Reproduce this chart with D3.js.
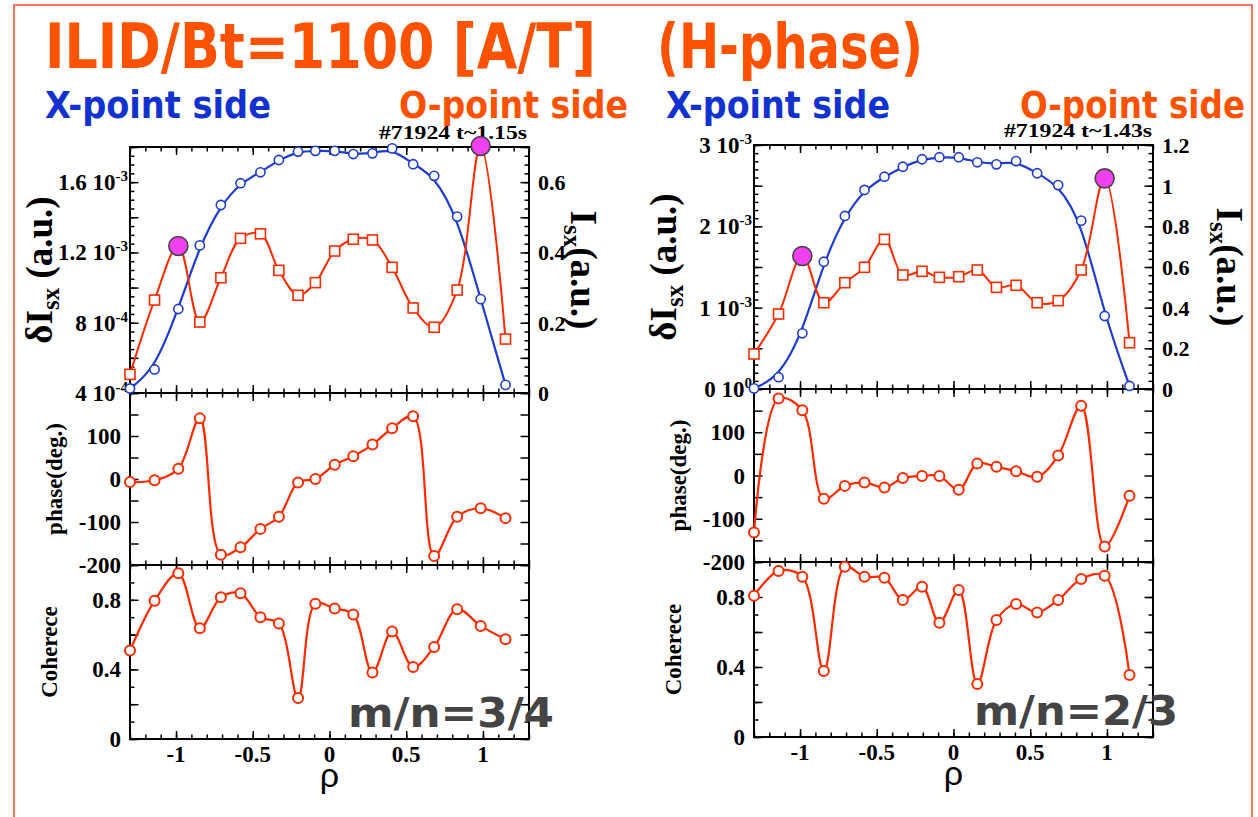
<!DOCTYPE html>
<html><head><meta charset="utf-8">
<script src="https://cdn.jsdelivr.net/npm/d3@7"></script>
<style>body{margin:0;background:#fff}svg{display:block}</style>
</head><body><svg id="c" width="1258" height="817"></svg>
<script>
// ---------------- data ----------------
const rho = [-1.30,-1.14,-0.985,-0.845,-0.708,-0.58,-0.45,-0.33,-0.205,-0.092,0.034,0.155,0.28,0.408,0.545,0.682,0.832,0.985,1.147];

// left chart (#71924 t~1.15s, m/n=3/4)
const leftDIsx  = [5.06e-4,9.29e-4,1.237e-3,8.04e-4,1.056e-3,1.28e-3,1.306e-3,1.098e-3,9.56e-4,1.028e-3,1.208e-3,1.275e-3,1.271e-3,1.115e-3,8.84e-4,7.74e-4,9.86e-4,1.806e-3,7.07e-4];
const leftIsx   = [0.013,0.067,0.239,0.420,0.535,0.597,0.628,0.663,0.687,0.689,0.689,0.680,0.682,0.696,0.651,0.618,0.502,0.267,0.023];
const leftPhase = [-7,-3,24,141,-176,-159,-116,-88,-8,0,33,53,80,118,146,-179,-88,-68,-91];
const leftCoh   = [0.508,0.794,0.952,0.637,0.814,0.837,0.700,0.664,0.235,0.777,0.750,0.716,0.382,0.618,0.414,0.529,0.746,0.650,0.573];

// right chart (#71924 t~1.43s, m/n=2/3)
const rightDIsx  = [4.30e-4,9.22e-4,1.635e-3,1.061e-3,1.307e-3,1.496e-3,1.840e-3,1.402e-3,1.447e-3,1.373e-3,1.381e-3,1.463e-3,1.250e-3,1.275e-3,1.061e-3,1.086e-3,1.463e-3,2.590e-3,5.69e-4];
const rightIsx   = [0.003,0.058,0.274,0.626,0.851,0.979,1.044,1.093,1.130,1.140,1.140,1.115,1.105,1.121,1.061,1.003,0.828,0.359,0.015];
const rightPhase = [-132,178,151,-54,-24,-16,-28,-6,-1,-1,-33,28,20,10,-3,46,161,-164,-47];
const rightCoh   = [0.807,0.949,0.916,0.377,0.973,0.916,0.910,0.783,0.859,0.653,0.840,0.303,0.669,0.760,0.712,0.783,0.903,0.922,0.354];

// highlighted (magenta) points of the dIsx series
const peakIdx = [2, 17];

// tick labels
const rhoTicks = [-1,-0.5,0,0.5,1];
const rhoTickLabels = ["-1","-0.5","0","0.5","1"];
const leftDITicks = [4e-4,8e-4,1.2e-3,1.6e-3];
const leftDIMant  = ["4","8","1.2","1.6"];
const leftDIExp   = ["-4","-4","-3","-3"];
const rightDITicks = [0,1e-3,2e-3,3e-3];
const rightDIMant  = ["0","1","2","3"];
const rightDIExp   = ["0","-3","-3","-3"];
const leftIsxTicks  = [0,0.2,0.4,0.6];
const leftIsxLabels = ["0","0.2","0.4","0.6"];
const rightIsxTicks  = [0,0.2,0.4,0.6,0.8,1,1.2];
const rightIsxLabels = ["0","0.2","0.4","0.6","0.8","1","1.2"];
const phaseTicks  = [-200,-100,0,100];
const phaseLabels = ["-200","-100","0","100"];
const cohTicks  = [0,0.4,0.8];
const cohLabels = ["0","0.4","0.8"];

// ---------------- drawing ----------------
const svg = d3.select("#c");
const RED = "#FF2A00", BLUE = "#1E3CD2", MAG = "#F040F0", ORANGE = "#FF5200", XBLUE = "#1232D0";
const SERIF = "'Liberation Serif','Times New Roman',serif";
const SANS = "'DejaVu Sans',Verdana,sans-serif";

// outer frame
svg.append("rect").attr("x",14).attr("y",5).attr("width",1238).attr("height",830)
  .attr("fill","none").attr("stroke","#FF4A2A").attr("stroke-width",1.5);

function bigText(t, x, y, size, color, len){
  svg.append("text").attr("x",x).attr("y",y).attr("font-family",SANS).attr("font-weight","bold")
    .attr("font-size",size).attr("fill",color).attr("textLength",len).attr("lengthAdjust","spacingAndGlyphs").text(t);
}
bigText("ILID/Bt=1100 [A/T]", 45, 68, 62, ORANGE, 551);
bigText("(H-phase)", 657, 68, 62, ORANGE, 266);
bigText("X-point side", 45, 118, 37, XBLUE, 226);
bigText("O-point side", 399, 118, 37, ORANGE, 229);
bigText("X-point side", 666, 118, 37, XBLUE, 224);
bigText("O-point side", 1020, 118, 37, ORANGE, 225);

const range = (lo, hi, step) => d3.range(0, Math.round((hi-lo)/step)+1).map(i => lo + i*step);

const charts = [
  {x0:130, x1:529, top:147, b1:393, b2:565, b3:739, rlab:42, shotX:379,
   di:leftDIsx, isx:leftIsx, ph:leftPhase, coh:leftCoh,
   diDom:[4e-4,1.8e-3], diMinor:5e-5, diMajor:2e-4, diTicks:leftDITicks, diMant:leftDIMant, diExp:leftDIExp,
   isxDom:[0,0.7], isxMinor:0.025, isxMajor:0.1, isxTicks:leftIsxTicks, isxLabels:leftIsxLabels,
   shot:"#71924 t~1.15s", mode:"m/n=3/4", modeX:348, modeLen:206},
  {x0:754, x1:1153, top:145, b1:389, b2:562, b3:737, rlab:64, shotX:1004,
   di:rightDIsx, isx:rightIsx, ph:rightPhase, coh:rightCoh,
   diDom:[0,3e-3], diMinor:1e-4, diMajor:5e-4, diTicks:rightDITicks, diMant:rightDIMant, diExp:rightDIExp,
   isxDom:[0,1.2], isxMinor:0.04, isxMajor:0.2, isxTicks:rightIsxTicks, isxLabels:rightIsxLabels,
   shot:"#71924 t~1.43s", mode:"m/n=2/3", modeX:974, modeLen:204}
];

function ticks(g, axisFn, scale, vals, len, tx, ty){
  const a = g.append("g").attr("transform",`translate(${tx},${ty})`)
    .call(axisFn(scale).tickValues(vals).tickSize(-len).tickSizeOuter(0).tickFormat(""));
  a.select(".domain").remove();
  a.selectAll("line").attr("stroke","#000").attr("stroke-width",1.5);
}

charts.forEach(c => {
  const g = svg.append("g");
  const x = d3.scaleLinear().domain([-1.3,1.3]).range([c.x0,c.x1]);
  const yDI = d3.scaleLinear().domain(c.diDom).range([c.b1,c.top]);
  const yI  = d3.scaleLinear().domain(c.isxDom).range([c.b1,c.top]);
  const yP  = d3.scaleLinear().domain([-200,200]).range([c.b2,c.b1]);
  const yC  = d3.scaleLinear().domain([0,1]).range([c.b3,c.b2]);
  const xMinor = range(-1.3,1.3,0.1), xMajor = range(-1,1,0.5);

  const panels = [[c.top,c.b1],[c.b1,c.b2],[c.b2,c.b3]];
  panels.forEach(([t,b]) => {
    ticks(g, d3.axisBottom, x, xMinor, 4.5, 0, b);
    ticks(g, d3.axisBottom, x, xMajor, 8, 0, b);
    ticks(g, d3.axisTop, x, xMinor, 4.5, 0, t);
    ticks(g, d3.axisTop, x, xMajor, 8, 0, t);
  });
  ticks(g, d3.axisLeft, yDI, range(c.diDom[0],c.diDom[1],c.diMinor), 4.5, c.x0, 0);
  ticks(g, d3.axisLeft, yDI, range(c.diDom[0],c.diDom[1],c.diMajor), 8.5, c.x0, 0);
  ticks(g, d3.axisRight, yI, range(c.isxDom[0],c.isxDom[1],c.isxMinor), 4.5, c.x1, 0);
  ticks(g, d3.axisRight, yI, range(c.isxDom[0],c.isxDom[1],c.isxMajor), 8.5, c.x1, 0);
  ticks(g, d3.axisLeft, yP, range(-200,200,50), 8.5, c.x0, 0);
  ticks(g, d3.axisRight, yP, range(-200,200,50), 8.5, c.x1, 0);
  ticks(g, d3.axisLeft, yC, range(0,1,0.1), 4.5, c.x0, 0);
  ticks(g, d3.axisLeft, yC, range(0,1,0.2), 8.5, c.x0, 0);
  ticks(g, d3.axisRight, yC, range(0,1,0.1), 4.5, c.x1, 0);
  ticks(g, d3.axisRight, yC, range(0,1,0.2), 8.5, c.x1, 0);

  panels.forEach(([t,b]) => {
    g.append("rect").attr("x",c.x0).attr("y",t).attr("width",c.x1-c.x0).attr("height",b-t)
      .attr("fill","none").attr("stroke","#000").attr("stroke-width",2);
  });

  // tick labels
  const lab = g.append("g").attr("font-family",SERIF).attr("font-weight","bold").attr("font-size",23).attr("fill","#000");
  c.diTicks.forEach((v,i) => {
    const t = lab.append("text").attr("x",c.x0-2).attr("y",yDI(v)+8).attr("text-anchor","end");
    t.append("tspan").text(c.diMant[i] + " 10");
    t.append("tspan").attr("font-size",15).attr("dy",-9).text(c.diExp[i]);
  });
  c.isxTicks.forEach((v,i) => {
    lab.append("text").attr("x",c.x1+9).attr("y",yI(v)+8).attr("font-size",22).text(c.isxLabels[i]);
  });
  phaseTicks.forEach((v,i) => {
    lab.append("text").attr("x",c.x0-9).attr("y",yP(v)+8).attr("text-anchor","end").text(phaseLabels[i]);
  });
  cohTicks.forEach((v,i) => {
    lab.append("text").attr("x",c.x0-9).attr("y",yC(v)+8).attr("text-anchor","end").text(cohLabels[i]);
  });
  rhoTicks.forEach((v,i) => {
    lab.append("text").attr("x",x(v)).attr("y",c.b3+23).attr("text-anchor","middle").text(rhoTickLabels[i]);
  });

  // axis titles
  const cy = (c.top+c.b1)/2;
  const t1 = g.append("text").attr("transform",`translate(${c.x0-78},${cy}) rotate(-90)`)
    .attr("text-anchor","middle").attr("font-family",SERIF).attr("font-weight","bold").attr("font-size",37);
  t1.append("tspan").text("δI");
  t1.append("tspan").attr("font-size",25).attr("dy",7).text("sx");
  t1.append("tspan").attr("dy",-7).text(" (a.u.)");
  const t2 = g.append("text").attr("transform",`translate(${c.x1+c.rlab},${cy}) rotate(90)`)
    .attr("text-anchor","middle").attr("font-family",SERIF).attr("font-weight","bold").attr("font-size",37);
  t2.append("tspan").text("I");
  t2.append("tspan").attr("font-size",25).attr("dy",7).text("sx");
  t2.append("tspan").attr("dy",-7).text("(a.u.)");
  g.append("text").attr("transform",`translate(${c.x0-68},${(c.b1+c.b2)/2}) rotate(-90)`)
    .attr("text-anchor","middle").attr("font-family",SERIF).attr("font-weight","bold").attr("font-size",23).text("phase(deg.)");
  g.append("text").attr("transform",`translate(${c.x0-73},${(c.b2+c.b3)/2}) rotate(-90)`)
    .attr("text-anchor","middle").attr("font-family",SERIF).attr("font-weight","bold").attr("font-size",23).text("Coherece");
  g.append("text").attr("x",x(0)).attr("y",c.b3+48).attr("text-anchor","middle")
    .attr("font-family","'Liberation Sans',Arial,sans-serif").attr("font-size",34).text("ρ");
  g.append("text").attr("x",c.shotX).attr("y",c.top-8)
    .attr("font-family",SERIF).attr("font-weight","bold").attr("font-size",19)
    .attr("textLength",148).attr("lengthAdjust","spacingAndGlyphs").text(c.shot);
  g.append("text").attr("x",c.modeX).attr("y",c.b3-12).attr("font-family",SANS).attr("font-weight","bold")
    .attr("font-size",40).attr("fill","#444").attr("textLength",c.modeLen).attr("lengthAdjust","spacingAndGlyphs").text(c.mode);

  // series
  const lineBlue = d3.line().x((d,i)=>x(rho[i])).y(d=>yI(d)).curve(d3.curveBasis);
  const lineDI = d3.line().x((d,i)=>x(rho[i])).y(d=>yDI(d)).curve(d3.curveCatmullRom.alpha(0.5));
  const lineP = d3.line().x((d,i)=>x(rho[i])).y(d=>yP(d)).curve(d3.curveCatmullRom.alpha(0.5));
  const lineC = d3.line().x((d,i)=>x(rho[i])).y(d=>yC(d)).curve(d3.curveCatmullRom.alpha(0.5));

  g.append("path").attr("d",lineBlue(c.isx)).attr("fill","none").attr("stroke",BLUE).attr("stroke-width",2.2);
  g.append("path").attr("d",lineDI(c.di)).attr("fill","none").attr("stroke",RED).attr("stroke-width",2);
  g.append("path").attr("d",lineP(c.ph)).attr("fill","none").attr("stroke",RED).attr("stroke-width",2.2);
  g.append("path").attr("d",lineC(c.coh)).attr("fill","none").attr("stroke",RED).attr("stroke-width",2.2);

  g.selectAll(null).data(c.isx).enter().append("circle")
    .attr("cx",(d,i)=>x(rho[i])).attr("cy",d=>yI(d)).attr("r",4.6)
    .attr("fill","#fff").attr("stroke",BLUE).attr("stroke-width",1.6);
  const sq = c.di.map((d,i)=>[i,d]).filter(([i])=>!peakIdx.includes(i));
  g.selectAll(null).data(sq).enter().append("rect")
    .attr("x",([i])=>x(rho[i])-5).attr("y",([,d])=>yDI(d)-5).attr("width",10).attr("height",10)
    .attr("fill","#fff").attr("stroke",RED).attr("stroke-width",1.6);
  g.selectAll(null).data(peakIdx).enter().append("circle")
    .attr("cx",i=>x(rho[i])).attr("cy",i=>yDI(c.di[i])).attr("r",9.5)
    .attr("fill",MAG).attr("stroke","#444").attr("stroke-width",1.6);
  [[c.ph,yP],[c.coh,yC]].forEach(([arr,ys]) => {
    g.selectAll(null).data(arr).enter().append("circle")
      .attr("cx",(d,i)=>x(rho[i])).attr("cy",d=>ys(d)).attr("r",5)
      .attr("fill","#fff").attr("stroke",RED).attr("stroke-width",2);
  });
});
</script></body></html>
